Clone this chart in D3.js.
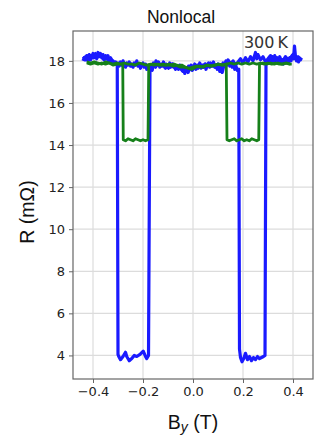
<!DOCTYPE html>
<html><head><meta charset="utf-8">
<script src="https://cdn.jsdelivr.net/npm/d3@7"></script>
<style>body{margin:0;background:#fff}svg{display:block}</style>
</head><body>
<svg id="c" width="323" height="436"></svg>
<script>
const xTicks = [-0.4, -0.2, 0.0, 0.2, 0.4];
const yTicks = [4, 6, 8, 10, 12, 14, 16, 18];

// Blue sweep A: switches at positive field
const blueAX = [-0.440,-0.435,-0.430,-0.425,-0.420,-0.415,-0.410,-0.405,-0.400,-0.395,-0.390,-0.385,-0.380,-0.375,-0.370,-0.365,-0.360,-0.355,-0.350,-0.345,-0.340,-0.335,-0.330,-0.325,-0.320,-0.315,-0.310,-0.305,
  -0.300,-0.295,-0.290,-0.285,-0.280,-0.275,-0.270,-0.265,-0.260,-0.255,-0.250,-0.245,-0.240,-0.235,-0.230,-0.225,-0.220,-0.215,-0.210,-0.205,-0.200,-0.195,-0.190,-0.185,-0.180,-0.175,
  -0.172,-0.168,-0.163,-0.158,-0.153,-0.148,-0.143,-0.138,-0.133,-0.128,-0.123,-0.118,-0.113,-0.108,-0.103,-0.098,-0.093,-0.088,-0.083,-0.078,-0.073,-0.068,-0.063,-0.058,-0.053,-0.048,-0.043,-0.038,-0.033,-0.028,-0.023,-0.018,-0.013,-0.008,-0.003,
  0.002,0.007,0.012,0.017,0.022,0.027,0.032,0.037,0.042,0.047,0.052,0.057,0.062,0.067,0.072,0.077,0.082,0.087,0.092,0.097,0.102,0.107,0.112,0.117,0.122,0.127,0.132,0.137,0.142,0.147,0.152,0.157,0.162,0.167,0.172,0.177,0.183,
  0.186,0.190,0.196,0.203,0.210,0.218,0.226,0.234,0.242,0.250,0.258,0.266,0.274,0.282,0.288,
  0.292,0.297,0.302,0.307,0.312,0.317,0.322,0.327,0.332,0.337,0.342,0.347,0.352,0.357,0.362,0.367,0.372,0.377,0.382,0.387,0.392,0.397,0.402,0.406,0.410,0.414,0.418,0.422,0.426,0.430,0.434];
const blueAY = [18.0,18.15,18.05,18.25,18.1,18.3,18.05,18.2,18.35,18.15,18.3,18.1,18.4,18.2,18.35,18.15,18.3,18.05,18.2,18.1,18.25,17.95,18.1,17.9,18.0,17.85,17.95,17.85,
  17.9,17.75,17.95,17.8,18.0,17.85,17.7,17.9,17.8,17.95,17.75,17.85,17.7,17.9,17.8,18.0,17.75,17.85,17.65,17.8,17.9,17.7,17.85,17.6,17.75,17.7,
  17.6,17.8,17.55,17.9,17.75,18.0,17.8,17.95,17.7,17.85,17.75,17.95,17.7,17.85,17.8,17.65,17.9,17.75,17.85,17.7,17.8,17.65,17.75,17.6,17.8,17.7,17.55,17.7,17.4,17.6,17.5,17.75,17.6,17.8,17.55,
  17.75,17.85,17.6,17.8,17.7,17.9,17.65,17.8,17.7,17.85,17.6,17.8,17.9,17.7,17.85,17.75,17.95,17.7,17.8,17.6,17.75,17.5,17.65,17.45,17.7,17.85,18.0,17.8,17.95,17.75,17.9,17.7,17.85,17.6,17.75,17.55,17.6,
  4.3,3.9,3.7,3.85,4.1,3.8,3.95,3.75,3.9,3.8,3.95,3.85,3.9,3.95,4.0,
  17.85,18.0,17.9,18.1,17.95,18.2,18.0,18.25,17.95,18.15,18.0,18.2,17.9,18.05,17.85,18.0,17.9,18.1,17.95,18.15,18.0,18.25,18.1,18.7,18.2,18.0,18.15,17.95,18.1,18.05,18.15];

// Blue sweep B: switches at negative field
const blueBX = [-0.44,-0.43,-0.42,-0.41,-0.40,-0.39,-0.38,-0.37,-0.36,-0.35,-0.34,-0.33,-0.32,-0.31,-0.303,
  -0.300,-0.297,-0.290,-0.280,-0.270,-0.265,-0.255,-0.245,-0.235,-0.225,-0.212,-0.199,-0.190,-0.185,-0.178,
  -0.172,-0.16,-0.15,-0.14,-0.13,-0.12,-0.11,-0.10,-0.09,-0.08,-0.07,-0.06,-0.05,-0.04,-0.03,-0.02,-0.01,0.0,0.01,0.02,0.03,0.04,0.05,0.06,0.07,0.08,0.09,0.10,0.11,0.12,0.13,0.14,0.15,0.16,0.17,0.18,0.19,0.20,0.21,0.22,0.23,0.24,0.25,0.255,0.26,0.27,0.28,0.29,0.30,0.31,0.32,0.33,0.34,0.35,0.36,0.37,0.38,0.39,0.40,0.41,0.42,0.43];
const blueBY = [18.1,18.2,18.0,18.25,18.15,18.35,18.2,18.3,18.1,18.25,18.05,18.15,17.95,17.9,17.85,
  4.05,3.95,3.8,3.95,4.15,3.95,3.75,3.85,4.0,3.95,4.05,4.2,3.95,3.85,4.0,
  17.75,17.85,17.7,17.9,17.75,17.85,17.65,17.8,17.7,17.85,17.6,17.75,17.65,17.5,17.65,17.45,17.7,17.6,17.75,17.65,17.8,17.7,17.85,17.75,17.9,17.8,17.7,17.85,17.6,17.9,17.8,18.05,17.85,18.0,17.8,17.95,18.1,17.9,18.15,17.95,18.2,18.0,18.4,18.1,18.3,18.05,18.2,17.95,18.1,18.25,18.0,18.15,17.9,18.1,18.0,18.2,18.05,18.15,18.3,18.1,18.2,18.1];

// Green sweep A: switches at positive field
const greenAX = [-0.425,-0.41,-0.395,-0.38,-0.365,-0.35,-0.335,-0.32,-0.305,-0.29,-0.275,-0.26,-0.245,-0.23,-0.215,-0.2,-0.185,-0.17,-0.155,-0.14,-0.125,-0.11,-0.095,-0.08,-0.065,-0.05,-0.035,-0.02,-0.005,0.01,0.025,0.04,0.055,0.07,0.085,0.1,0.115,0.133,
  0.136,0.145,0.155,0.165,0.175,0.185,0.195,0.205,0.215,0.225,0.235,0.245,0.255,0.263,
  0.266,0.28,0.295,0.31,0.325,0.34,0.355,0.37,0.385,0.395];
const greenAY = [17.95,17.9,17.95,17.9,17.85,17.95,17.9,17.85,17.9,17.85,17.9,17.85,17.85,17.8,17.9,17.85,17.8,17.85,17.8,17.85,17.8,17.8,17.85,17.75,17.8,17.7,17.7,17.65,17.6,17.7,17.75,17.7,17.8,17.75,17.8,17.85,17.8,17.85,
  14.25,14.2,14.25,14.3,14.2,14.25,14.3,14.2,14.25,14.2,14.3,14.25,14.2,14.25,
  17.85,17.9,17.85,17.9,17.85,17.9,17.85,17.9,17.85,17.85];

// Green sweep B: switches at negative field
const greenBX = [-0.425,-0.41,-0.395,-0.38,-0.365,-0.35,-0.335,-0.32,-0.305,-0.29,-0.281,
  -0.279,-0.27,-0.26,-0.25,-0.24,-0.23,-0.22,-0.21,-0.20,-0.19,-0.180,
  -0.177,-0.165,-0.15,-0.135,-0.12,-0.105,-0.09,-0.075,-0.06,-0.045,-0.03,-0.015,0.0,0.015,0.03,0.045,0.06,0.075,0.09,0.105,0.12,0.135,0.15,0.165,0.18,0.195,0.21,0.225,0.24,0.255,0.27,0.285,0.30,0.315,0.33,0.345,0.36,0.375,0.39];
const greenBY = [17.9,17.85,17.9,17.85,17.9,17.85,17.9,17.8,17.85,17.85,17.85,
  14.25,14.2,14.3,14.25,14.2,14.3,14.25,14.2,14.25,14.2,14.25,
  17.8,17.85,17.85,17.8,17.85,17.8,17.8,17.85,17.75,17.8,17.7,17.65,17.7,17.75,17.7,17.75,17.8,17.75,17.8,17.85,17.8,17.85,17.9,17.85,17.9,17.85,17.9,17.85,17.9,17.85,17.9,17.85,17.9,17.85,17.9,17.85,17.85,17.9,17.85];

const svg = d3.select("#c");
const L = 73, R = 313, T = 31, B = 379;
const x = d3.scaleLinear().domain([-0.48, 0.48]).range([L, R]);
const y = d3.scaleLinear().domain([2.88, 19.42]).range([B, T]);

// grid
svg.append("g").selectAll("line").data(xTicks).join("line")
  .attr("x1", d => x(d)).attr("x2", d => x(d)).attr("y1", T).attr("y2", B)
  .attr("stroke", "#dcdcdc").attr("stroke-width", 1.2);
svg.append("g").selectAll("line").data(yTicks).join("line")
  .attr("x1", L).attr("x2", R).attr("y1", d => y(d)).attr("y2", d => y(d))
  .attr("stroke", "#dcdcdc").attr("stroke-width", 1.2);

// axes
const xa = svg.append("g").attr("transform", `translate(0,${B})`)
  .call(d3.axisBottom(x).tickValues(xTicks).tickFormat(d => d3.format(".1f")(d).replace("-", "\u2212")).tickSize(4).tickPadding(4));
const ya = svg.append("g").attr("transform", `translate(${L},0)`)
  .call(d3.axisLeft(y).tickValues(yTicks).tickSize(4).tickPadding(4));
[xa, ya].forEach(a => {
  a.select(".domain").remove();
  a.selectAll("line").attr("stroke", "#666");
  a.selectAll("text").attr("fill", "#222").style("font-family", "DejaVu Sans").style("font-size", "13px");
});

// lines
const line = d3.line().x(d => x(d[0])).y(d => y(d[1]));
const pts = (xs, ys) => xs.map((v, i) => [v, ys[i]]);
[[blueAX, blueAY], [blueBX, blueBY]].forEach(([xs, ys]) => {
  svg.append("path").datum(pts(xs, ys))
    .attr("d", line).attr("fill", "none").attr("stroke", "#1a1aff").attr("stroke-width", 3.2)
    .attr("stroke-linejoin", "round");
});
[[greenAX, greenAY], [greenBX, greenBY]].forEach(([xs, ys]) => {
  svg.append("path").datum(pts(xs, ys))
    .attr("d", line).attr("fill", "none").attr("stroke", "#16801a").attr("stroke-width", 2.8)
    .attr("stroke-linejoin", "round");
});

// frame
svg.append("rect").attr("x", L).attr("y", T).attr("width", R - L).attr("height", B - T)
  .attr("fill", "none").attr("stroke", "#666").attr("stroke-width", 1.2);

// texts
svg.append("text").attr("x", 181).attr("y", 23).attr("text-anchor", "middle")
  .style("font-family", "Liberation Sans, Arial").style("font-size", "17.5px").attr("fill", "#111").text("Nonlocal");
svg.append("text").attr("x", 266).attr("y", 48).attr("text-anchor", "middle")
  .style("font-family", "DejaVu Sans").style("font-size", "16px").attr("fill", "#333").text("300\u2009K");
svg.append("text").attr("transform", "translate(34,212) rotate(-90)").attr("text-anchor", "middle")
  .style("font-family", "Liberation Sans, Arial").style("font-size", "19.5px").attr("fill", "#111").text("R (mΩ)");
const xl = svg.append("text").attr("x", 193).attr("y", 429).attr("text-anchor", "middle")
  .style("font-family", "Liberation Sans, Arial").style("font-size", "19.5px").attr("fill", "#111");
xl.append("tspan").text("B");
xl.append("tspan").attr("font-style", "italic").attr("font-size", "14px").attr("dy", 3).text("y");
xl.append("tspan").attr("dy", -3).text(" (T)");
</script>
</body></html>
